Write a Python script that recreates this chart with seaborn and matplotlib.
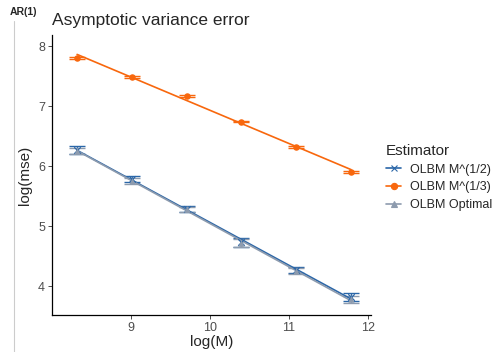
import numpy as np
import pandas as pd
import matplotlib
matplotlib.use("Agg")
import matplotlib.pyplot as plt
from matplotlib.lines import Line2D
import seaborn as sns

sns.set_theme(style="white")
plt.rcParams['font.family'] = ['Liberation Sans', 'DejaVu Sans']

# data #
log_m = [8.318, 9.011, 9.704, 10.397, 11.090, 11.784]
half_mse = [6.27, 5.78, 5.29, 4.73, 4.27, 3.82]
half_err = [0.06, 0.05, 0.05, 0.07, 0.05, 0.07]
third_mse = [7.80, 7.49, 7.17, 6.745, 6.32, 5.90]
third_err = [0.02, 0.015, 0.02, 0.015, 0.015, 0.015]
opt_mse = [6.26, 5.76, 5.28, 4.72, 4.25, 3.78]
opt_err = [0.05, 0.05, 0.04, 0.06, 0.05, 0.06]

estimators = ["OLBM M^(1/2)", "OLBM M^(1/3)", "OLBM Optimal"]
colors = {"OLBM M^(1/2)": "#2a66a8", "OLBM M^(1/3)": "#f8670d", "OLBM Optimal": "#8d9bae"}
markers = {"OLBM M^(1/2)": "x", "OLBM M^(1/3)": "o", "OLBM Optimal": "^"}

df = pd.concat([
    pd.DataFrame({"logM": log_m, "logmse": half_mse, "err": half_err, "Estimator": estimators[0]}),
    pd.DataFrame({"logM": log_m, "logmse": third_mse, "err": third_err, "Estimator": estimators[1]}),
    pd.DataFrame({"logM": log_m, "logmse": opt_mse, "err": opt_err, "Estimator": estimators[2]}),
])

fig = plt.figure(figsize=(4.95, 3.52), dpi=100)
ax = fig.add_axes([0.105, 0.105, 0.645, 0.796])

for est in estimators:
    sub = df[df.Estimator == est]
    ax.errorbar(sub.logM, sub.logmse, yerr=sub.err, fmt='none', ecolor=colors[est],
                elinewidth=1.0, capsize=5.8, capthick=1.0, zorder=2)
    sns.regplot(data=sub, x="logM", y="logmse", ax=ax, ci=None, scatter=False, truncate=True,
                line_kws={"color": colors[est], "lw": 1.2, "zorder": 3})
    if markers[est] == "x":
        sns.scatterplot(data=sub, x="logM", y="logmse", color=colors[est], marker="x",
                        s=22, linewidth=0.9, ax=ax, legend=False, zorder=4)
    else:
        sns.scatterplot(data=sub, x="logM", y="logmse", color=colors[est], marker=markers[est],
                        s=22, linewidth=0, ax=ax, legend=False, zorder=4)

ax.set_xlim(8.0, 12.04)
ax.set_ylim(3.52, 8.19)
ax.set_xticks([9, 10, 11, 12])
ax.set_yticks([4, 5, 6, 7, 8])
ax.tick_params(axis='both', labelsize=9, colors='#4d4d4d', length=3, width=0.7,
               direction='out', bottom=True, left=True, pad=2)
for t in ax.get_xticklines() + ax.get_yticklines():
    t.set_color('black')
sns.despine(ax=ax)
for s in ["left", "bottom"]:
    ax.spines[s].set_color("black")
    ax.spines[s].set_linewidth(0.9)
ax.set_xlabel("log(M)", fontsize=11, labelpad=1)
ax.set_ylabel("log(mse)", fontsize=11, labelpad=4)
ax.set_title("Asymptotic variance error", fontsize=12.5, loc="left", x=0.0, pad=7)

handles = [Line2D([0], [0], color=colors[e], marker=markers[e], markersize=4.5,
                  lw=1.2, markeredgewidth=0.8) for e in estimators]
leg = fig.legend(handles, estimators, title="Estimator", loc="upper left",
                 bbox_to_anchor=(0.77, 0.605), frameon=False, fontsize=9,
                 title_fontsize=11, handlelength=1.2, handletextpad=0.7,
                 labelspacing=0.45, borderaxespad=0)
leg._legend_box.align = "left"

fig.text(0.02, 0.965, "AR(1)", fontsize=7.5, fontweight="bold", ha="left", va="center")
fig.add_artist(Line2D([0.028, 0.028], [0.0, 0.94], color="#cccccc", lw=0.8))

plt.savefig("out.png", dpi=100)
